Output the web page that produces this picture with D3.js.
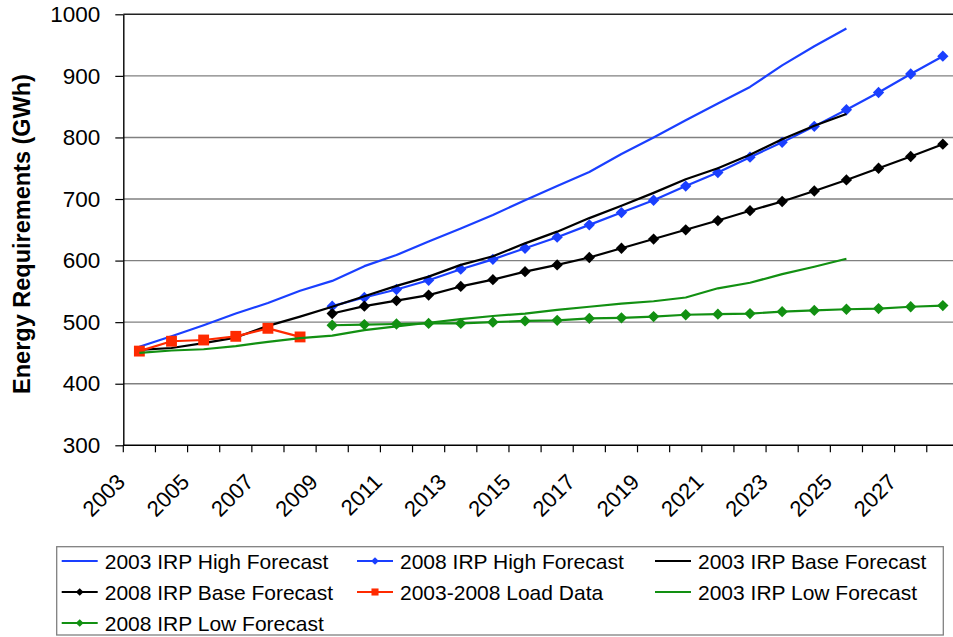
<!DOCTYPE html>
<html>
<head>
<meta charset="utf-8">
<script src="https://cdn.jsdelivr.net/npm/d3@7"></script>
<style>
  html, body { margin: 0; padding: 0; background: #fff; }
  svg { display: block; font-family: "Liberation Sans", Arial, sans-serif; }
</style>
</head>
<body>
<svg id="chart" width="953" height="637"></svg>
<script>
// Categories: one per year
const years = d3.range(2003, 2029);
const yTicks = [300, 400, 500, 600, 700, 800, 900, 1000];
const xLabelYears = [2003, 2005, 2007, 2009, 2011, 2013, 2015, 2017, 2019, 2021, 2023, 2025, 2027];

// Series values (GWh), each starting at its own first year
const irp2003High = [460, 477, 495, 514, 531, 551, 567, 591, 609, 631, 652, 674, 698, 721, 744, 773, 800, 828, 855, 882, 917, 948, 977];
const irp2008High = [526, 540, 553, 568, 586, 602, 620, 638, 658, 678, 698, 721, 743, 768, 792, 818, 845, 873, 903, 932];
const irp2003Base = [455, 458, 466, 475, 494, 509, 525, 542, 559, 574, 593, 607, 628, 647, 669, 689, 710, 732, 750, 772, 797, 819, 838];
const irp2008Base = [514, 526, 535, 544, 558, 569, 582, 593, 605, 620, 635, 650, 665, 681, 696, 713, 731, 750, 769, 789];
const loadData   = [453, 469, 471, 477, 490, 476];
const irp2003Low  = [450, 454, 456, 461, 468, 474, 478, 487, 493, 499, 505, 510, 514, 520, 525, 530, 534, 540, 555, 564, 578, 590, 603];
const irp2008Low  = [495, 496, 497, 498, 498, 500, 502, 503, 506, 507, 509, 512, 513, 514, 517, 519, 521, 522, 525, 527];

const seriesNames = ["2003 IRP High Forecast", "2008 IRP High Forecast", "2003 IRP Base Forecast",
  "2008 IRP Base Forecast", "2003-2008 Load Data", "2003 IRP Low Forecast", "2008 IRP Low Forecast"];
const seriesStart = [2003, 2009, 2003, 2009, 2003, 2003, 2009];
const seriesValues = [irp2003High, irp2008High, irp2003Base, irp2008Base, loadData, irp2003Low, irp2008Low];
const seriesColor = ["#1a3fff", "#1a3fff", "#000000", "#000000", "#ff2a00", "#129012", "#129012"];
const seriesMarker = [null, "diamond", null, "diamond", "square", null, "diamond"];

const series = seriesNames.map((name, i) => ({
  name, color: seriesColor[i], marker: seriesMarker[i],
  points: seriesValues[i].map((v, j) => ({ year: seriesStart[i] + j, value: v }))
}));

const svg = d3.select("#chart");
const plot = { left: 123.3, right: 958.9, top: 14.3, bottom: 445.3 };

const x = d3.scaleBand().domain(years).range([plot.left, plot.right]).paddingInner(0).paddingOuter(0);
const xc = yr => x(yr) + x.bandwidth() / 2;
const y = d3.scaleLinear().domain([300, 1000]).range([plot.bottom, plot.top]);

// Square-diamond marker
const squareDiamond = {
  draw(ctx, size) {
    const r = Math.sqrt(size / 2);
    ctx.moveTo(0, -r); ctx.lineTo(r, 0); ctx.lineTo(0, r); ctx.lineTo(-r, 0); ctx.closePath();
  }
};
const markerPath = (type, size) => d3.symbol().type(type === "diamond" ? squareDiamond : d3.symbolSquare).size(size)();

// Horizontal gridlines
svg.append("g").selectAll("line").data(yTicks.filter(t => t > 300)).join("line")
  .attr("x1", plot.left).attr("x2", plot.right)
  .attr("y1", d => y(d)).attr("y2", d => y(d))
  .attr("stroke", d => d === 1000 ? "#222" : "#808080")
  .attr("stroke-width", 1.4);

// Y axis
const yAxis = svg.append("g").attr("transform", `translate(${plot.left},0)`)
  .call(d3.axisLeft(y).tickValues(yTicks).tickFormat(d3.format("d")).tickSize(8).tickPadding(15).tickSizeOuter(0));
yAxis.select(".domain").attr("stroke", "#000").attr("stroke-width", 1.4);
yAxis.selectAll(".tick line").attr("stroke", "#000").attr("stroke-width", 1.2);
yAxis.selectAll(".tick text").attr("font-size", 22.5).attr("fill", "#000")
  .attr("font-family", '"Liberation Sans", Arial, sans-serif');

// X axis: ticks at category boundaries
const xAxisG = svg.append("g");
xAxisG.append("line").attr("x1", plot.left).attr("x2", plot.right)
  .attr("y1", plot.bottom).attr("y2", plot.bottom).attr("stroke", "#000").attr("stroke-width", 1.6);
const boundaries = years.map(yr => x(yr)).concat([x(years[years.length - 1]) + x.bandwidth()]);
xAxisG.selectAll("line.tk").data(boundaries).join("line").attr("class", "tk")
  .attr("x1", d => d).attr("x2", d => d).attr("y1", plot.bottom).attr("y2", plot.bottom + 7)
  .attr("stroke", "#000").attr("stroke-width", 1.2);
xAxisG.selectAll("text").data(xLabelYears).join("text")
  .attr("transform", d => `translate(${xc(d) - 13},${plot.bottom + 38}) rotate(-45)`)
  .attr("text-anchor", "end").attr("font-size", 22).attr("fill", "#000").text(d => d);

// Y axis title
svg.append("text").attr("transform", "translate(30,234) rotate(-90)")
  .attr("text-anchor", "middle").attr("font-size", 23.5).attr("font-weight", "bold")
  .text("Energy Requirements (GWh)");

// Series lines and markers
const line = d3.line().x(d => xc(d.year)).y(d => y(d.value));
series.forEach(s => {
  const g = svg.append("g");
  g.append("path").datum(s.points).attr("d", line)
    .attr("fill", "none").attr("stroke", s.color).attr("stroke-width", 2.2).attr("stroke-linejoin", "round");
  if (s.marker) {
    const sz = s.marker === "diamond" ? 64 : 118;
    g.selectAll("path.m").data(s.points).join("path").attr("class", "m")
      .attr("d", markerPath(s.marker, sz))
      .attr("transform", d => `translate(${xc(d.year)},${y(d.value)})`)
      .attr("fill", s.color);
  }
});

// Legend
const legend = svg.append("g");
legend.append("rect").attr("x", 56.7).attr("y", 546.7).attr("width", 886.6).attr("height", 88.3)
  .attr("fill", "#fff").attr("stroke", "#808080").attr("stroke-width", 1.3);
const colX = [61.7, 357, 655];
const rowY = [561, 592, 623];
series.forEach((s, i) => {
  const cx = colX[i % 3], cy = rowY[Math.floor(i / 3)];
  const it = legend.append("g").attr("transform", `translate(${cx},${cy})`);
  it.append("line").attr("x1", 0).attr("x2", 36).attr("y1", 0).attr("y2", 0)
    .attr("stroke", s.color).attr("stroke-width", 2);
  if (s.marker) {
    it.append("path").attr("d", markerPath(s.marker, s.marker === "diamond" ? 30 : 50))
      .attr("transform", "translate(18,0)").attr("fill", s.color);
  }
  it.append("text").attr("x", 43).attr("y", 0).attr("dy", "0.36em")
    .attr("font-size", 21).attr("fill", "#000").text(s.name);
});
</script>
</body>
</html>
